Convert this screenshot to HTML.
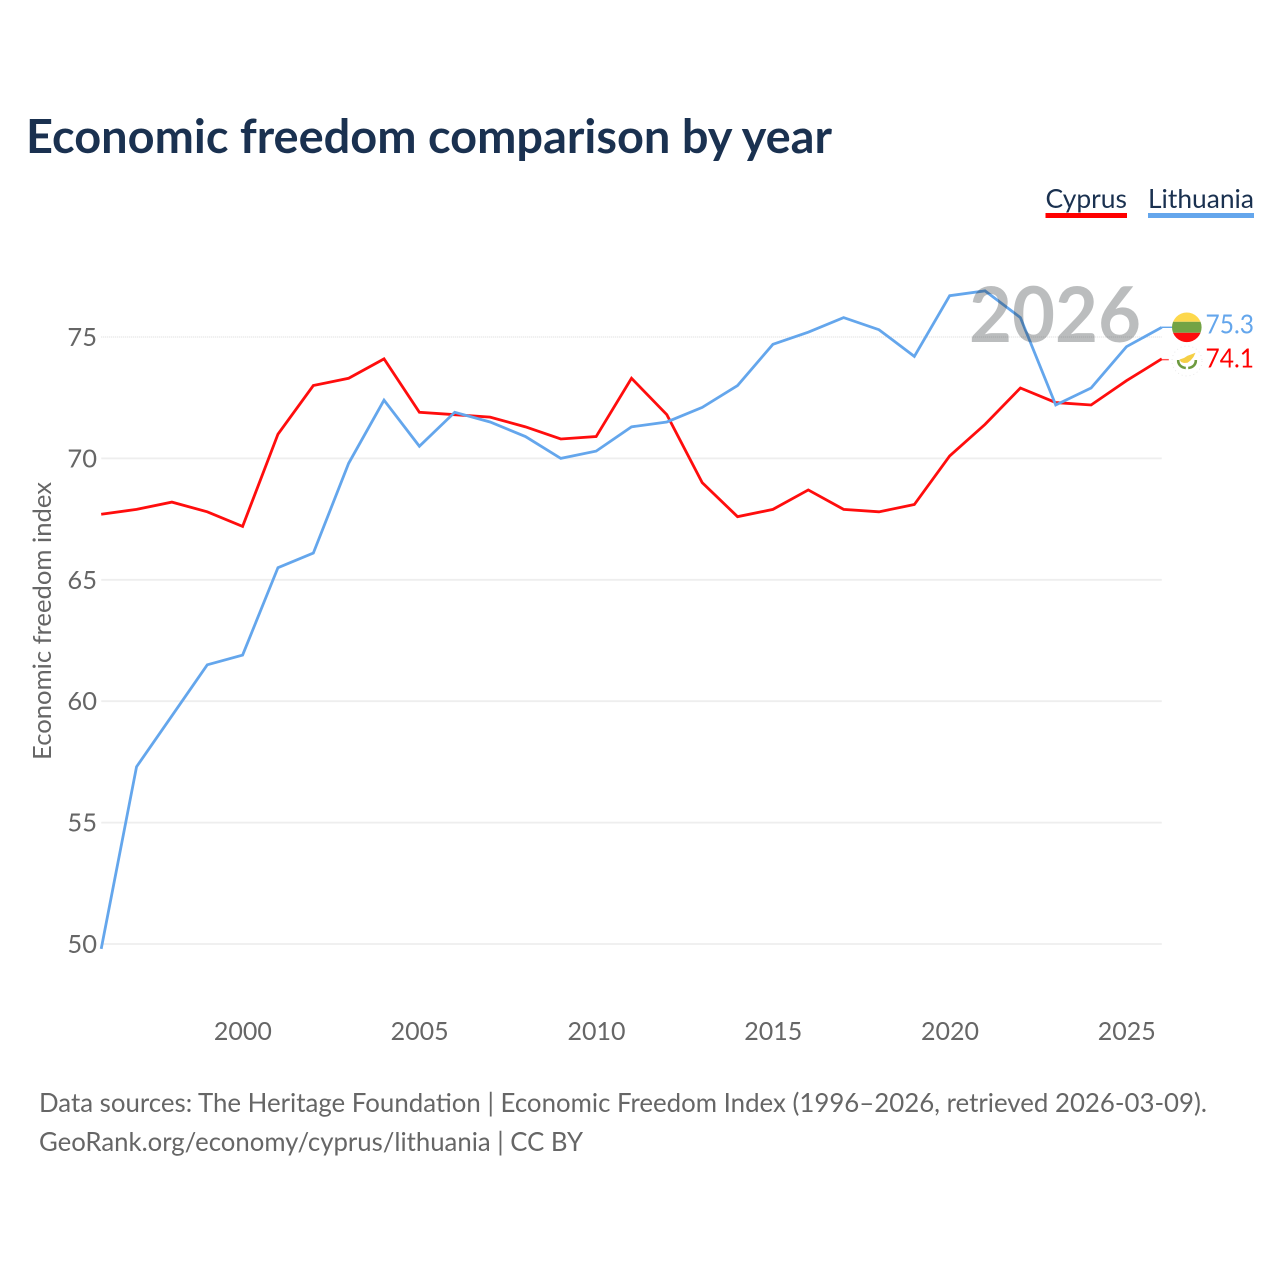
<!DOCTYPE html>
<html lang="en">
<head>
<meta charset="utf-8">
<title>Economic freedom comparison by year</title>
<style>
html,body{margin:0;padding:0;background:#fff;width:1280px;height:1280px;overflow:hidden}
svg{display:block}
text{font-family:"Lato","Carlito","Liberation Sans",sans-serif}
</style>
</head>
<body>
<svg id="chart" xmlns="http://www.w3.org/2000/svg" width="1280" height="1280" viewBox="0 0 1280 1280">
  <rect width="1280" height="1280" fill="#fff"/>
  <text x="26" y="153" font-size="46.5" font-weight="700" fill="#1a3150" textLength="806" lengthAdjust="spacingAndGlyphs">Economic freedom comparison by year</text>

  <g id="grid"></g>
  <g id="yticks"></g>
  <g id="xticks"></g>
  <text transform="translate(51,621) rotate(-90)" text-anchor="middle" font-size="25.5" fill="#666" textLength="278" lengthAdjust="spacingAndGlyphs">Economic freedom index</text>

  <g id="series"></g>

  <text x="969" y="342" font-size="77" font-weight="700" fill="#1f2428" fill-opacity="0.3" textLength="172" lengthAdjust="spacingAndGlyphs">2026</text>

  <g>
    <text x="1045.5" y="208" font-size="26.5" fill="#1a3150" textLength="81.5" lengthAdjust="spacingAndGlyphs">Cyprus</text>
    <rect x="1045.5" y="213" width="81.5" height="5" fill="#ff0000"/>
  </g>
  <g>
    <text x="1148" y="208" font-size="26.5" fill="#1a3150" textLength="106" lengthAdjust="spacingAndGlyphs">Lithuania</text>
    <rect x="1148" y="213" width="106" height="5" fill="#64a6ec"/>
  </g>

  <defs>
    <clipPath id="ltClip"><circle cx="1186.8" cy="327.3" r="14.8"/></clipPath>
  </defs>
  <g>
    <circle cx="1187" cy="361" r="15" fill="#fff" stroke="#e4e4e4" stroke-width="0.8" stroke-dasharray="1 3"/>
    <path d="M1179.5 359.5 L1184 358 L1187.5 355.8 L1191 354.5 L1195.5 352.8 L1193.5 357 L1190.5 360.5 L1187.5 362.8 L1184 363 L1181 362 Z" fill="#f5cf45"/>
    <path d="M1178.2 360 C1178 364.5 1181 367.6 1185.8 368" fill="none" stroke="#6d9a3f" stroke-width="2.6"/>
    <path d="M1195.8 360 C1196 364.5 1193 367.6 1188.2 368" fill="none" stroke="#6d9a3f" stroke-width="2.6"/>
  </g>
  <g clip-path="url(#ltClip)">
    <rect x="1170" y="312" width="34" height="9.8" fill="#fdd84c"/>
    <rect x="1170" y="321.8" width="34" height="11" fill="#73a345"/>
    <rect x="1170" y="332.8" width="34" height="11" fill="#ff0d0d"/>
  </g>
  <text x="1254" y="333.5" text-anchor="end" font-size="26" fill="#64a6ec" textLength="48.5" lengthAdjust="spacingAndGlyphs">75.3</text>
  <text x="1254" y="367.5" text-anchor="end" font-size="26" fill="#ff0000" textLength="48.5" lengthAdjust="spacingAndGlyphs">74.1</text>

  <text x="39" y="1112" font-size="26" fill="#666" textLength="1168" lengthAdjust="spacingAndGlyphs">Data sources: The Heritage Foundation | Economic Freedom Index (1996–2026, retrieved 2026-03-09).</text>
  <text x="39" y="1151" font-size="26" fill="#666" textLength="544" lengthAdjust="spacingAndGlyphs">GeoRank.org/economy/cyprus/lithuania | CC BY</text>
</svg>
<script>
const years = [1996,1997,1998,1999,2000,2001,2002,2003,2004,2005,2006,2007,2008,2009,2010,2011,2012,2013,2014,2015,2016,2017,2018,2019,2020,2021,2022,2023,2024,2025,2026];
const cyprusValues = [67.7,67.9,68.2,67.8,67.2,71.0,73.0,73.3,74.1,71.9,71.8,71.7,71.3,70.8,70.9,73.3,71.8,69.0,67.6,67.9,68.7,67.9,67.8,68.1,70.1,71.4,72.9,72.3,72.2,73.2,74.1];
const lithuaniaValues = [49.8,57.3,59.4,61.5,61.9,65.5,66.1,69.8,72.4,70.5,71.9,71.5,70.9,70.0,70.3,71.3,71.5,72.1,73.0,74.7,75.2,75.8,75.3,74.2,76.7,76.9,75.8,72.2,72.9,74.6,75.4];
const yTickValues = [50,55,60,65,70,75];
const xTickValues = [2000,2005,2010,2015,2020,2025];

const NS = 'http://www.w3.org/2000/svg';
function xScale(year){ return 101.2 + (year - 1996) * (1161.8 - 101.2) / 30; }
function yScale(value){ return 944 - (value - 50) * (944 - 337) / 25; }

const gridGroup = document.getElementById('grid');
const yGroup = document.getElementById('yticks');
const xGroup = document.getElementById('xticks');
const seriesGroup = document.getElementById('series');

yTickValues.forEach(function(v, i){
  const isTop = i === yTickValues.length - 1;
  const line = document.createElementNS(NS, 'line');
  
  
  line.setAttribute('x1', xScale(1996));
  line.setAttribute('x2', xScale(2026));
  line.setAttribute('y1', yScale(v));
  line.setAttribute('y2', yScale(v));
  line.setAttribute('stroke', isTop ? '#e6e6e6' : '#eeeeee');
  line.setAttribute('stroke-width', isTop ? '1.5' : '1.8');
  if (isTop) line.setAttribute('stroke-dasharray', '1 1');
  gridGroup.appendChild(line);

  const label = document.createElementNS(NS, 'text');
  
  
  label.setAttribute('x', 97);
  label.setAttribute('y', yScale(v) + 9);
  label.setAttribute('text-anchor', 'end');
  label.setAttribute('font-size', '25.5');
  label.setAttribute('fill', '#666');
  label.textContent = v;
  yGroup.appendChild(label);
});

xTickValues.forEach(function(v){
  const label = document.createElementNS(NS, 'text');
  
  
  label.setAttribute('x', xScale(v) + 0.3);
  label.setAttribute('y', 1040);
  label.setAttribute('text-anchor', 'middle');
  label.setAttribute('font-size', '25');
  label.setAttribute('fill', '#666');
  label.textContent = v;
  xGroup.appendChild(label);
});

function pointsFor(values){
  return values.map(function(v, i){ return xScale(years[i]).toFixed(2) + ',' + yScale(v).toFixed(2); }).join(' ');
}

const cyprusLine = document.createElementNS(NS, 'polyline');


cyprusLine.setAttribute('points', pointsFor(cyprusValues));
cyprusLine.setAttribute('fill', 'none');
cyprusLine.setAttribute('stroke', '#ff0d0d');
cyprusLine.setAttribute('stroke-width', '2.8');
seriesGroup.appendChild(cyprusLine);

const lithuaniaLine = document.createElementNS(NS, 'polyline');


lithuaniaLine.setAttribute('points', pointsFor(lithuaniaValues));
lithuaniaLine.setAttribute('fill', 'none');
lithuaniaLine.setAttribute('stroke', '#64a6ec');
lithuaniaLine.setAttribute('stroke-width', '2.8');
seriesGroup.appendChild(lithuaniaLine);

const cyprusConnector = document.createElementNS(NS, 'line');


cyprusConnector.setAttribute('x1', xScale(2026));
cyprusConnector.setAttribute('x2', xScale(2026) + 7);
cyprusConnector.setAttribute('y1', yScale(cyprusValues[30]) + 0.8);
cyprusConnector.setAttribute('y2', yScale(cyprusValues[30]) + 0.8);
cyprusConnector.setAttribute('stroke', '#ff5050');
cyprusConnector.setAttribute('stroke-width', '1.4');
seriesGroup.appendChild(cyprusConnector);

const lithuaniaConnector = document.createElementNS(NS, 'line');


lithuaniaConnector.setAttribute('x1', xScale(2026));
lithuaniaConnector.setAttribute('x2', xScale(2026) + 11);
lithuaniaConnector.setAttribute('y1', yScale(lithuaniaValues[30]));
lithuaniaConnector.setAttribute('y2', yScale(lithuaniaValues[30]));
lithuaniaConnector.setAttribute('stroke', '#64a6ec');
lithuaniaConnector.setAttribute('stroke-width', '1.4');
seriesGroup.appendChild(lithuaniaConnector);
</script>
</body>
</html>
